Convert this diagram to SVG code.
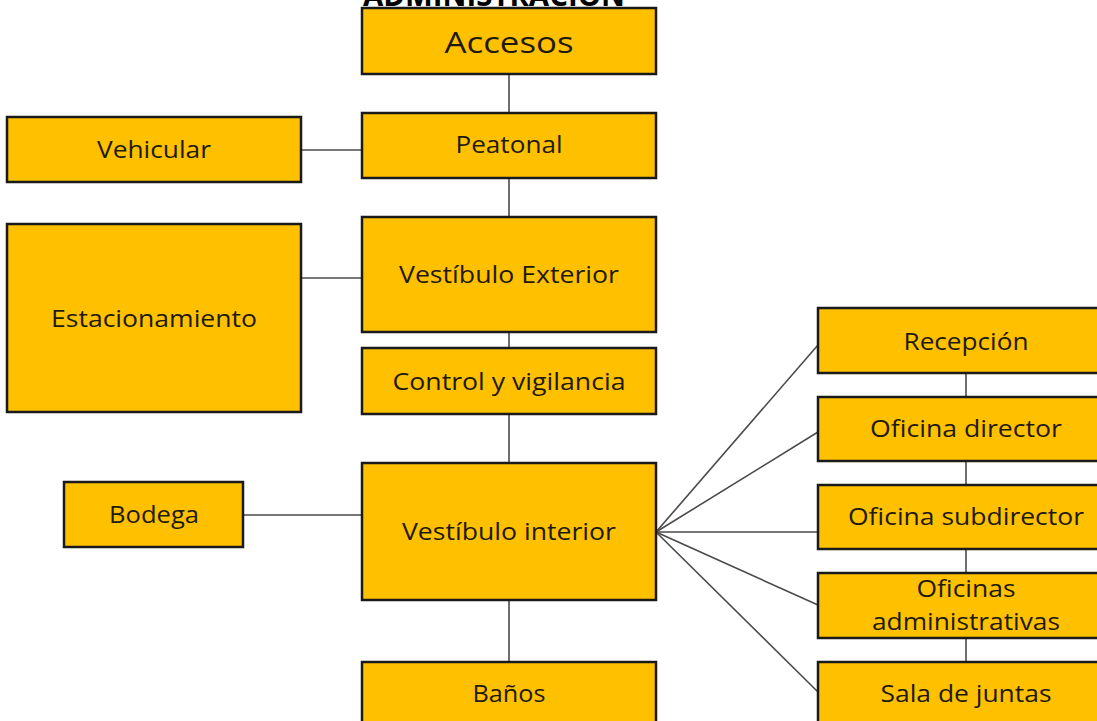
<svg xmlns="http://www.w3.org/2000/svg" width="1097" height="721" viewBox="0 0 1097 721">
<style>
.box{fill:#FFC000;stroke:#1a1a1a;stroke-width:2.5}
.lbl{font-family:"Open Sans","Liberation Sans",sans-serif;font-size:23px;fill:#1f1a0f;text-anchor:middle}
.big{font-size:30px}
.ttl{font-family:"Open Sans","Liberation Sans",sans-serif;font-size:30px;font-weight:bold;fill:#000;text-anchor:middle}
.con line{stroke:#4a4a4a;stroke-width:1.6}
</style>
<rect width="1097" height="721" fill="#ffffff"/>
<text class="ttl" x="494" y="6" textLength="262" lengthAdjust="spacingAndGlyphs">ADMINISTRACIÓN</text>
<g class="con" id="connectors">
<line x1="509" y1="74" x2="509" y2="113"/>
<line x1="509" y1="178" x2="509" y2="217"/>
<line x1="509" y1="332" x2="509" y2="348"/>
<line x1="509" y1="414" x2="509" y2="463"/>
<line x1="509" y1="600" x2="509" y2="662"/>
<line x1="301" y1="150" x2="362" y2="150"/>
<line x1="301" y1="278" x2="362" y2="278"/>
<line x1="243" y1="515" x2="362" y2="515"/>
<line x1="656" y1="532" x2="818" y2="345"/>
<line x1="656" y1="532" x2="818" y2="432"/>
<line x1="656" y1="532" x2="818" y2="532"/>
<line x1="656" y1="532" x2="818" y2="605"/>
<line x1="656" y1="532" x2="818" y2="692"/>
<line x1="966" y1="373" x2="966" y2="397"/>
<line x1="966" y1="461" x2="966" y2="485"/>
<line x1="966" y1="549" x2="966" y2="573"/>
<line x1="966" y1="638" x2="966" y2="662"/>
</g>
<g id="accesos"><rect class="box" x="362" y="8" width="294" height="66"/><text class="lbl big" x="509" y="53" textLength="129" lengthAdjust="spacingAndGlyphs">Accesos</text></g>
<g id="peatonal"><rect class="box" x="362" y="113" width="294" height="65"/><text class="lbl" x="509" y="153" textLength="107" lengthAdjust="spacingAndGlyphs">Peatonal</text></g>
<g id="vehicular"><rect class="box" x="7" y="117" width="294" height="65"/><text class="lbl" x="154" y="158" textLength="114" lengthAdjust="spacingAndGlyphs">Vehicular</text></g>
<g id="vestibulo-exterior"><rect class="box" x="362" y="217" width="294" height="115"/><text class="lbl" x="509" y="283" textLength="220" lengthAdjust="spacingAndGlyphs">Vestíbulo Exterior</text></g>
<g id="estacionamiento"><rect class="box" x="7" y="224" width="294" height="188"/><text class="lbl" x="154" y="327" textLength="206" lengthAdjust="spacingAndGlyphs">Estacionamiento</text></g>
<g id="control"><rect class="box" x="362" y="348" width="294" height="66"/><text class="lbl" x="509" y="390" textLength="233" lengthAdjust="spacingAndGlyphs">Control y vigilancia</text></g>
<g id="bodega"><rect class="box" x="64" y="482" width="179" height="65"/><text class="lbl" x="154" y="523" textLength="90" lengthAdjust="spacingAndGlyphs">Bodega</text></g>
<g id="vestibulo-interior"><rect class="box" x="362" y="463" width="294" height="137"/><text class="lbl" x="509" y="540" textLength="214" lengthAdjust="spacingAndGlyphs">Vestíbulo interior</text></g>
<g id="banos"><rect class="box" x="362" y="662" width="294" height="70"/><text class="lbl" x="509" y="702" textLength="73" lengthAdjust="spacingAndGlyphs">Baños</text></g>
<g id="recepcion"><rect class="box" x="818" y="308" width="296" height="65"/><text class="lbl" x="966" y="350" textLength="125" lengthAdjust="spacingAndGlyphs">Recepción</text></g>
<g id="oficina-director"><rect class="box" x="818" y="397" width="296" height="64"/><text class="lbl" x="966" y="437" textLength="192" lengthAdjust="spacingAndGlyphs">Oficina director</text></g>
<g id="oficina-subdirector"><rect class="box" x="818" y="485" width="296" height="64"/><text class="lbl" x="966" y="525" textLength="236" lengthAdjust="spacingAndGlyphs">Oficina subdirector</text></g>
<g id="oficinas-administrativas"><rect class="box" x="818" y="573" width="296" height="65"/><text class="lbl" x="966" y="597" textLength="99" lengthAdjust="spacingAndGlyphs">Oficinas</text><text class="lbl" x="966" y="630" textLength="188" lengthAdjust="spacingAndGlyphs">administrativas</text></g>
<g id="sala-juntas"><rect class="box" x="818" y="662" width="296" height="70"/><text class="lbl" x="966" y="702" textLength="171" lengthAdjust="spacingAndGlyphs">Sala de juntas</text></g>
</svg>
